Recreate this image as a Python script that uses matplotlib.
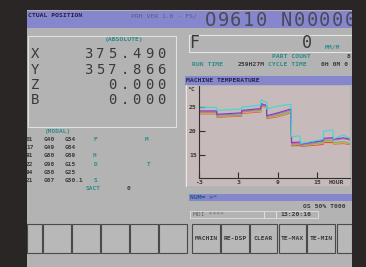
import matplotlib
matplotlib.use("Agg")
import matplotlib.pyplot as plt
from matplotlib.patches import Rectangle

# ---------------- data ----------------
axis_letters = ["X", "Y", "Z", "B"]
axis_values = ["375.490", "357.866", "0.000", "0.000"]

modal_rows = [
    ["01", "G40", "G54"],
    ["17", "G49", "G64"],
    ["91", "G80", "G69"],
    ["22", "G98", "G15"],
    ["94", "G50", "G25"],
    ["21", "G67", "G50.1"],
]
modal_tags = [("F", "M"), ("", ""), ("H", ""), ("D", "T"), ("", ""), ("S", "")]

softkeys = ["", "", "", "", "", "", "MACHIN", "RE-DSP", "CLEAR", "TE-MAX", "TE-MIN"]

hours = [-3, -0.3, -0.3, 3.5, 3.5, 6.4, 6.5, 6.8, 7.3, 7.3, 9.0, 11.0, 11.1,
         12.4, 12.5, 15.9, 16.0, 17.4, 17.5, 19.0, 20.0]
temp_cyan = [25.0, 24.9, 24.3, 24.6, 25.0, 25.4, 26.6, 26.2, 26.0, 24.6, 25.2,
             25.6, 18.8, 19.0, 17.4, 18.3, 20.0, 20.2, 18.4, 19.2, 18.5]
temp_purple = [24.2, 24.2, 23.5, 23.8, 24.3, 24.7, 25.8, 25.5, 25.4, 23.2, 23.8,
               24.6, 17.6, 17.7, 17.3, 18.0, 18.5, 18.6, 18.3, 18.6, 18.3]
temp_magenta = [24.0, 24.0, 23.3, 23.6, 24.1, 24.5, 25.6, 25.4, 25.3, 23.0, 23.6,
                24.4, 17.4, 17.5, 17.1, 17.9, 18.3, 18.4, 18.1, 18.4, 18.1]
temp_green = [23.9, 23.9, 23.1, 23.3, 24.0, 24.3, 25.5, 25.3, 25.2, 22.8, 23.3,
              24.1, 17.2, 17.3, 17.0, 17.6, 18.0, 18.0, 17.6, 17.8, 17.4]
temp_orange = [23.7, 23.7, 23.0, 23.2, 23.8, 24.1, 25.4, 25.2, 25.1, 22.7, 23.1,
               23.9, 17.1, 17.2, 16.9, 17.4, 17.8, 17.8, 17.4, 17.5, 17.3]
temp_red = [23.6, 23.6, 22.9, 23.1, 23.7, 24.0, 25.3, 25.1, 25.0, 22.6, 23.0,
            23.8, 16.9, 17.0, 16.8, 17.2, 17.6, 17.6, 17.3, 17.4, 17.2]
x_ticks = [-3, 3, 9, 15]
y_ticks = [15, 20, 25]

# ---------------- drawing ----------------
MONO = "DejaVu Sans Mono"
DARK_BG = "#2a2626"
PANEL = "#b3b3b3"
BAR = "#8686cc"
TEAL = "#2c8c8c"
INK = "#3a3a3a"

fig = plt.figure(figsize=(3.66, 2.67), dpi=100)
fig.patch.set_facecolor(DARK_BG)
ax = fig.add_axes([0, 0, 1, 1])
ax.set_xlim(0, 366)
ax.set_ylim(267, 0)
ax.axis("off")


def rect(x0, y0, x1, y1, fc, ec="none", lw=0.0, z=1):
    ax.add_patch(Rectangle((x0, y0), x1 - x0, y1 - y0, facecolor=fc,
                           edgecolor=ec, linewidth=lw, zorder=z))


def txt(x, y, s, size=5, color=INK, ha="left", weight="bold", z=5):
    ax.text(x, y, s, fontsize=size, color=color, ha=ha, va="center",
            family=MONO, fontweight=weight, zorder=z)


def pitched(x0, y, s, pitch, size, color=INK, z=5):
    for i, ch in enumerate(s):
        ax.text(x0 + i * pitch + pitch / 2, y, ch, fontsize=size, color=color,
                ha="center", va="center", family=MONO, zorder=z)


# panel
rect(27, 10, 352, 267, PANEL)
# title bar
rect(27, 11, 352, 28, BAR, z=2)
txt(28, 15.5, "CTUAL POSITION", 4.6, "#20204a")
txt(131, 15.5, "PRH VER 1.0 - FS/", 4.6, "#5a5a8a", weight="normal")
pitched(204, 21, "O9610 N00000", 12.7, 13.5, "#4a4a5a", z=3)

# absolute box
rect(28, 36, 176, 127, "none", ec="#e0e0e0", lw=0.8, z=2)
txt(105, 40, "(ABSOLUTE)", 4.6, TEAL)
for i, (lt, val) in enumerate(zip(axis_letters, axis_values)):
    y = 54.5 + i * 15.3
    pitched(29, y, lt, 12.1, 10, INK)
    pitched(167 - 12.1 * len(val), y, val, 12.1, 10, INK)

# modal
txt(45, 131, "(MODAL)", 4.4, TEAL)
for i, (row, tags) in enumerate(zip(modal_rows, modal_tags)):
    y = 139.5 + i * 8.2
    txt(26, y, row[0], 4.4)
    txt(44, y, row[1], 4.4)
    txt(65, y, row[2], 4.4)
    if tags[0]:
        txt(94 if i != 2 else 93, y, tags[0], 4.4, TEAL)
    if tags[1]:
        txt(145 if i == 0 else 147, y, tags[1], 4.4, TEAL)
txt(86, 189, "SACT", 4.4, TEAL)
txt(127, 189, "0", 4.4)

# F box
rect(189, 35, 352, 52, "none", ec="#e4e4e4", lw=0.8, z=2)
pitched(189, 43.5, "F", 11, 12, INK)
pitched(301, 43.5, "0", 11, 12, INK)
txt(325, 47, "MM/M", 4.6, TEAL)
txt(272, 56, "PART COUNT", 4.6, TEAL)
txt(347, 56, "8", 4.6)
txt(192, 64.5, "RUN TIME", 4.6, TEAL)
txt(238, 64.5, "259H27M", 4.6)
txt(268, 64.5, "CYCLE TIME", 4.6, TEAL)
txt(321, 64.5, "0H 0M 0", 4.6)

# chart area
rect(185, 76, 352, 85, BAR, z=2)
txt(186, 80.5, "MACHINE TEMPERATURE", 4.6, "#23234a", z=3)
rect(185, 85.5, 350, 186, "#c6baba", z=2)
ax.plot([185.5, 185.5], [85, 186], color="#e8e8e8", lw=0.8, zorder=3)
txt(187, 89.5, "°C", 4.6, INK, z=6)
txt(329, 182.5, "HOUR", 4.6, INK, z=6)

chart = fig.add_axes([199 / 366, (267 - 178) / 267, 151 / 366, 92 / 267])
chart.patch.set_alpha(0)
chart.set_xlim(-3, 20)
chart.set_ylim(10.2, 29.4)
series = [
    (temp_red, "#e84040"),
    (temp_orange, "#f0a050"),
    (temp_green, "#60c060"),
    (temp_magenta, "#d060b0"),
    (temp_purple, "#7840c0"),
    (temp_cyan, "#40d8d8"),
]
for vals, col in series:
    chart.plot(hours, vals, color=col, lw=0.8, solid_joinstyle="miter")
for s in ["top", "right"]:
    chart.spines[s].set_visible(False)
for s in ["left", "bottom"]:
    chart.spines[s].set_color("#303030")
    chart.spines[s].set_linewidth(0.8)
chart.set_xticks(x_ticks)
chart.set_yticks(y_ticks)
chart.set_xticklabels([str(v) for v in x_ticks], family=MONO, fontsize=4.6,
                      fontweight="bold", color=INK)
chart.set_yticklabels([str(v) for v in y_ticks], family=MONO, fontsize=4.6,
                      fontweight="bold", color=INK)
chart.tick_params(axis="both", direction="in", length=4, width=0.8,
                  color="#303030", pad=1.5)

# status lines
rect(189, 194, 352, 201, BAR, z=2)
txt(190, 197.5, "NUM= >^", 4.6, "#1c5c7c", z=3)
txt(303, 206, "OS 50% T000", 4.6, INK)
rect(190, 211, 264, 218, "none", ec="#e0e0e0", lw=0.6, z=2)
rect(264, 211, 276, 218, "none", ec="#e0e0e0", lw=0.6, z=2)
rect(276, 211, 318, 218, "none", ec="#e0e0e0", lw=0.6, z=2)
txt(193, 214.5, "MDI ****", 4.6, "#6a6a6a", weight="normal")
txt(280, 214.5, "13:20:16", 4.6, INK)

# soft keys
key_x = [27, 43, 72, 101, 130, 159, 192, 221, 250, 279, 307]
key_w = [15, 28, 28, 28, 28, 28, 28, 28, 27, 27, 28]
for kx, kw, lab in zip(key_x, key_w, softkeys):
    rect(kx, 224, kx + kw, 253, "#b8b8b8", ec="#4a4a4a", lw=0.8, z=2)
    if lab:
        txt(kx + kw / 2, 238.5, lab, 4.6, INK, ha="center", z=3)
rect(337, 224, 352, 253, "#b8b8b8", ec="#4a4a4a", lw=0.8, z=2)

# frame edges (dark) on top to clip overflowing text
rect(0, 0, 27, 267, DARK_BG, z=50)
rect(352, 0, 366, 267, DARK_BG, z=50)
rect(0, 0, 366, 10, DARK_BG, z=50)

fig.savefig("out.png", dpi=100, facecolor=DARK_BG)
